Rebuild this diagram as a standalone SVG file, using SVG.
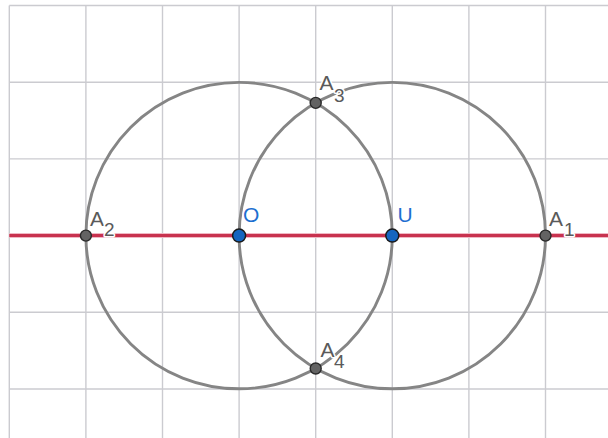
<svg xmlns="http://www.w3.org/2000/svg" width="608" height="438" viewBox="0 0 608 438">
<style>
.grid line{stroke:#cbcbd0;stroke-width:1.4}
.circ{fill:none;stroke:#858585;stroke-width:2.9}
.axis{stroke:#c8324f;stroke-width:3}
.axisglow{stroke:#f0b8c4;stroke-width:5}
.pt{fill:#636363;stroke:#2a2a2a;stroke-width:1.4}
.pb{fill:#1565c0;stroke:#1a1a1a;stroke-width:1.5}
text{font-family:"Liberation Sans",Arial,sans-serif;paint-order:stroke;stroke:#fff;stroke-width:3;stroke-linejoin:round}
.lg{fill:#5a5a5a;font-size:21px}
.lb{fill:#1e6fd0;font-size:21px}
.sub{font-size:19px}
</style>
<rect width="608" height="438" fill="#fff"/>
<g class="grid">
<line x1="9.3" y1="5.5" x2="9.3" y2="438"/>
<line x1="85.9" y1="5.5" x2="85.9" y2="438"/>
<line x1="162.5" y1="5.5" x2="162.5" y2="438"/>
<line x1="239.1" y1="5.5" x2="239.1" y2="438"/>
<line x1="315.7" y1="5.5" x2="315.7" y2="438"/>
<line x1="392.3" y1="5.5" x2="392.3" y2="438"/>
<line x1="468.9" y1="5.5" x2="468.9" y2="438"/>
<line x1="545.5" y1="5.5" x2="545.5" y2="438"/>
<line x1="9.3" y1="5.5" x2="608" y2="5.5"/>
<line x1="9.3" y1="82.2" x2="608" y2="82.2"/>
<line x1="9.3" y1="158.9" x2="608" y2="158.9"/>
<line x1="9.3" y1="235.6" x2="608" y2="235.6"/>
<line x1="9.3" y1="312.3" x2="608" y2="312.3"/>
<line x1="9.3" y1="389" x2="608" y2="389"/>
</g>
<g id="connectors">
<line class="axisglow" x1="9.3" y1="235.6" x2="608" y2="235.6"/>
<line class="axis" x1="9.3" y1="235.6" x2="608" y2="235.6"/>
<circle class="circ" cx="239.1" cy="235.6" r="153.2"/>
<circle class="circ" cx="392.3" cy="235.6" r="153.2"/>
</g>
<g id="A2"><circle class="pt" cx="85.9" cy="235.6" r="5.5"/><text class="lg" x="90" y="226">A<tspan class="sub" x="104" y="235.5">2</tspan></text></g>
<g id="A1"><circle class="pt" cx="545.5" cy="235.6" r="5.5"/><text class="lg" x="549" y="226">A<tspan class="sub" x="564" y="235.5">1</tspan></text></g>
<g id="A3"><circle class="pt" cx="315.7" cy="102.9" r="5.5"/><text class="lg" x="319.5" y="90">A<tspan class="sub" x="334" y="101.5">3</tspan></text></g>
<g id="A4"><circle class="pt" cx="315.7" cy="368.5" r="5.5"/><text class="lg" x="320.5" y="357">A<tspan class="sub" x="334" y="367.5">4</tspan></text></g>
<g id="O"><circle class="pb" cx="239.1" cy="235.6" r="6.5"/><text class="lb" x="243" y="222">O</text></g>
<g id="U"><circle class="pb" cx="392.3" cy="235.6" r="6.5"/><text class="lb" x="397.5" y="222">U</text></g>
</svg>
